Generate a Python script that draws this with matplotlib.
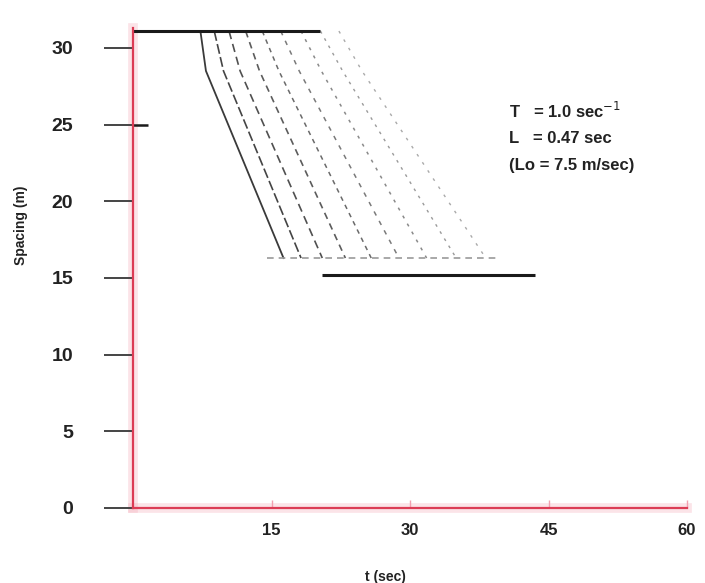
import matplotlib
matplotlib.use("Agg")
import matplotlib.pyplot as plt

plt.rcParams['font.family'] = ['Liberation Sans', 'DejaVu Sans']

# steady-state spacing levels (m) and the time spans (s) over which they are drawn
upstream_t = [0.0, 20.3]
upstream_s = [31.1, 31.1]
downstream_t = [20.5, 43.5]
downstream_s = [15.2, 15.2]
settle_t = [14.5, 39.5]
settle_s = [16.3, 16.3]

# spacing transitions of successive followers: start, knee and end of each trace
trace_start_t = [7.3, 8.8, 10.4, 12.2, 14.0, 16.0, 18.2, 20.3, 22.3]
trace_knee_t = [7.9, 9.8, 11.6, 13.7, 15.8, 18.0, 20.4, 22.7, 24.8]
trace_end_t = [16.3, 18.2, 20.5, 23.0, 25.8, 28.8, 31.8, 35.0, 38.2]
trace_start_s = 31.1
trace_knee_s = 28.5
trace_end_s = 16.3

x_ticks = [15, 30, 45, 60]
y_ticks = [0, 5, 10, 15, 20, 25, 30]
params = ["T   = 1.0 sec$^{-1}$", "L   = 0.47 sec", "(Lo = 7.5 m/sec)"]

fig = plt.figure(figsize=(7.05, 5.83), dpi=100)
ax = fig.add_axes([133 / 705, 75 / 583, 554 / 705, 480 / 583])
ax.set_xlim(0, 60)
ax.set_ylim(0, 31.3)

styles = [
    dict(color="#3a3a3a", lw=1.3, ls="-"),
    dict(color="#444444", lw=1.2, ls=(0, (6, 2))),
    dict(color="#505050", lw=1.2, ls=(0, (5, 3))),
    dict(color="#5c5c5c", lw=1.2, ls=(0, (4, 3))),
    dict(color="#6a6a6a", lw=1.1, ls=(0, (3, 3))),
    dict(color="#7a7a7a", lw=1.1, ls=(0, (3, 4))),
    dict(color="#8a8a8a", lw=1.1, ls=(0, (2, 4))),
    dict(color="#9a9a9a", lw=1.0, ls=(0, (2, 4))),
    dict(color="#aaaaaa", lw=1.0, ls=(0, (2, 5))),
]
for t0, tk, t1, st in zip(trace_start_t, trace_knee_t, trace_end_t, styles):
    ax.plot([t0, tk, t1], [trace_start_s, trace_knee_s, trace_end_s], **st)

ax.plot(settle_t, settle_s, color="#9a9a9a", lw=1.2, ls=(0, (4, 3)))
ax.plot(upstream_t, upstream_s, color="#1a1a1a", lw=2.2,
        solid_capstyle="butt", clip_on=False)
ax.plot(downstream_t, downstream_s, color="#1a1a1a", lw=2.2,
        solid_capstyle="butt")

# pointer on the spacing axis
ax.plot([0.0, 1.6], [25, 25], color="#1a1a1a", lw=1.8, clip_on=False,
        solid_capstyle="butt")

# parameter block
for i, txt in enumerate(params):
    ax.text(40.7, 25.9 - i * 1.78, txt, fontsize=12, fontweight="bold",
            color="#222222", va="center", ha="left")

for side in ["top", "right"]:
    ax.spines[side].set_visible(False)
red = "#dc3c55"
ax.spines["left"].set_color(red)
ax.spines["bottom"].set_color(red)
ax.spines["left"].set_linewidth(1.6)
ax.spines["bottom"].set_linewidth(1.6)
# soft glow along the red axis lines
ax.axvline(0, color="#f4a6b4", lw=7, alpha=0.3, zorder=0, clip_on=False)
ax.axhline(0, color="#f4a6b4", lw=7, alpha=0.3, zorder=0, clip_on=False)

ax.set_yticks(y_ticks)
ax.set_yticklabels([str(v) for v in y_ticks], fontsize=14, fontweight="bold",
                   color="#222222")
ax.set_xticks(x_ticks)
ax.set_xticklabels([str(v) for v in x_ticks], fontsize=12, fontweight="bold",
                   color="#222222")
ax.tick_params(axis="y", direction="out", length=21, width=1.4,
               color="#444444", pad=22)
ax.tick_params(axis="x", direction="in", length=6, width=1.0,
               color="#f2a0b0", pad=11)

ax.set_xlabel("t (sec)", fontsize=10, fontweight="bold", color="#222222")
ax.xaxis.set_label_coords(0.455, -0.13)
ax.set_ylabel("Spacing (m)", fontsize=10, fontweight="bold", color="#222222")
ax.yaxis.set_label_coords(-0.19, 0.59)

fig.savefig("out.png", dpi=100)
